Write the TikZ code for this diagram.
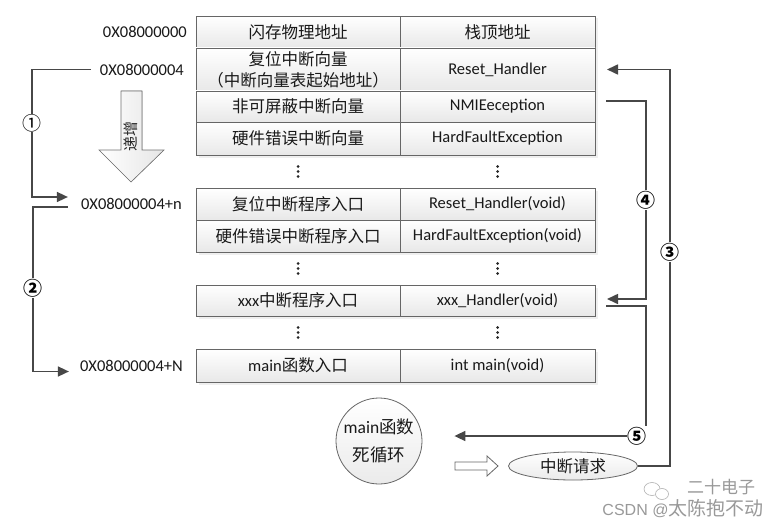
\documentclass[tikz,border=0pt]{standalone}
\usepackage{fontspec}
\setmainfont{Carlito}
\newfontfamily\zhfont{Noto Sans CJK SC}
\newfontfamily\wmfont{Liberation Sans}
\usetikzlibrary{positioning,calc,shapes.geometric,arrows.meta,shadows}
\newcommand{\zh}[1]{{\zhfont #1}}

\tikzset{
	cell/.style={draw=black!60,line width=0.8pt,top color=white,bottom color=black!9,
		inner sep=0pt,outer sep=0pt,align=center,text=black!90,
		font=\fontsize{16.5}{21}\selectfont,
		drop shadow={shadow xshift=2.5pt,shadow yshift=-2.5pt,fill=black!12}},
	cellL/.style={cell,minimum width=204pt},
	cellR/.style={cell,minimum width=195pt},
	addr/.style={inner sep=0pt,text=black!90,font=\fontsize{16.5}{20}\selectfont},
	vdot/.style={minimum width=6pt,minimum height=16pt,inner sep=0pt,
		path picture={\foreach \k in {-5,0,5}
			\fill[black!85] ([yshift=\k pt]path picture bounding box.center) circle (1.5pt);}},
	flow/.style={draw=black!72,line width=1.6pt,-{Triangle[length=11pt,width=10pt]}},
	num/.style={fill=white,inner sep=0.5pt,text=black,font=\zhfont\fontsize{19}{19}\selectfont},
	numb/.style={num,font=\zhfont\bfseries\fontsize{19}{19}\selectfont},
}

\begin{document}
\begin{tikzpicture}[x=1pt,y=-1pt]
	\useasboundingbox[fill=white] (0,0) rectangle (783,524);
	% table: left column
	\node[cellL,minimum height=32pt,anchor=north west](l1) at (196,16){\zh{闪存物理地址}};
	\node[cellL,minimum height=43pt](l2)[below=0pt of l1]{\zh{复位中断向量}\\\zh{（中断向量表起始地址）}};
	\node[cellL,minimum height=31pt](l3)[below=0pt of l2]{\zh{非可屏蔽中断向量}};
	\node[cellL,minimum height=33pt](l4)[below=0pt of l3]{\zh{硬件错误中断向量}};
	\node[cellL,minimum height=32pt](l5)[below=33pt of l4]{\zh{复位中断程序入口}};
	\node[cellL,minimum height=32pt](l6)[below=0pt of l5]{\zh{硬件错误中断程序入口}};
	\node[cellL,minimum height=31pt](l7)[below=33pt of l6]{xxx\zh{中断程序入口}};
	\node[cellL,minimum height=33pt](l8)[below=33pt of l7]{main\zh{函数入口}};
	% table: right column
	\node[cellR,minimum height=32pt](r1)[right=0pt of l1]{\zh{栈顶地址}};
	\node[cellR,minimum height=43pt](r2)[right=0pt of l2]{Reset\_Handler};
	\node[cellR,minimum height=31pt](r3)[right=0pt of l3]{NMIEeception};
	\node[cellR,minimum height=33pt](r4)[right=0pt of l4]{HardFaultException};
	\node[cellR,minimum height=32pt](r5)[right=0pt of l5]{Reset\_Handler(void)};
	\node[cellR,minimum height=32pt](r6)[right=0pt of l6]{HardFaultException(void)};
	\node[cellR,minimum height=31pt](r7)[right=0pt of l7]{xxx\_Handler(void)};
	\node[cellR,minimum height=33pt](r8)[right=0pt of l8]{int main(void)};
	% dots
	\node[vdot](d1l) at ($(l4.south)!.5!(l5.north)$){};
	\node[vdot](d1r) at ($(r4.south)!.5!(r5.north)$){};
	\node[vdot](d2l) at ($(l6.south)!.5!(l7.north)$){};
	\node[vdot](d2r) at ($(r6.south)!.5!(r7.north)$){};
	\node[vdot](d3l) at ($(l7.south)!.5!(l8.north)$){};
	\node[vdot](d3r) at ($(r7.south)!.5!(r8.north)$){};
	% addresses
	\node[addr,anchor=east](a1)[left=9pt of l1]{0X08000000};
	\node[addr,anchor=east](a2)[left=12pt of l2]{0X08000004};
	\node[addr,anchor=east](a3)[left=14pt of l5]{0X08000004+n};
	\node[addr,anchor=east](a4)[left=13pt of l8]{0X08000004+N};
	% increasing arrow
	\filldraw[draw=black!55,line width=0.6pt,left color=white,right color=black!10]
		(121,91) -- (142,91) -- (142,150) -- (164,150) -- (131,182) -- (99,150) -- (121,150) -- cycle;
	\node[rotate=90,inner sep=0pt,text=black!85,font=\zhfont\fontsize{15}{15}\selectfont](inc) at (131,136){递增};
	% main loop and interrupt request
	\node[circle,draw=black!60,line width=0.8pt,minimum size=86pt,inner sep=0pt,
		top color=white,bottom color=black!8,align=center,text=black!90,
		font=\fontsize{17.5}{28}\selectfont](loop) at (379,441){main\zh{函数}\\\zh{死循环}};
	\node[ellipse,draw=black!60,line width=0.8pt,minimum width=129pt,minimum height=28pt,inner sep=0pt,
		top color=white,bottom color=black!8,text=black!90,
		font=\fontsize{16.5}{20}\selectfont](irq) at (573,466){\zh{中断请求}};
	\filldraw[draw=black!60,line width=0.8pt,fill=white]
		(455,462) -- (487,462) -- (487,456) -- (498,466) -- (487,476) -- (487,470) -- (455,470) -- cycle;
	% connectors
	\coordinate(p1) at (32,123);
	\coordinate(p2) at (33,288);
	\coordinate(p3) at (670,252);
	\coordinate(p4) at (646,200);
	\coordinate(p5) at (646,436);
	\path[flow]([xshift=-9pt]a2.west) -| (p1) |- ([xshift=-13pt,yshift=7pt]a3.west);
	\path[flow]([xshift=-13pt,yshift=-3pt]a3.west) -| (p2) |- ([xshift=-11pt,yshift=-6pt]a4.west);
	\path[flow](irq.east) -| (p3) |- ([xshift=12pt]r2.east);
	\path[flow]([xshift=11pt,yshift=5.5pt]r3.east) -| (p4) |- ([xshift=12pt,yshift=1.5pt]r7.east);
	\path[flow]([xshift=11pt,yshift=-5.5pt]r7.east) -| (p5) |- ([xshift=32pt,yshift=5pt]loop.east);
	\node[num](n1) at (p1){①};
	\node[numb](n2) at (p2){②};
	\node[numb](n3) at (p3){③};
	\node[numb](n4) at (p4){④};
	\node[numb](n5) at ([xshift=-9pt]p5){⑤};
	% watermark
	\draw[black!30,line width=0.6pt](652,489) ellipse (8pt and 6.5pt);
	\draw[black!30,line width=0.6pt,fill=white](662,494) ellipse (6.5pt and 5.5pt);
	\node[text=black!40,font=\zhfont\fontsize{17}{17}\selectfont](wm1) at (721,487){二十电子};
	\node[text=black!40,font=\wmfont\fontsize{16}{16}\selectfont](wm2) at (683,509){CSDN @\zh{\fontsize{19}{19}\selectfont 太陈抱不动}};
\end{tikzpicture}
\end{document}
